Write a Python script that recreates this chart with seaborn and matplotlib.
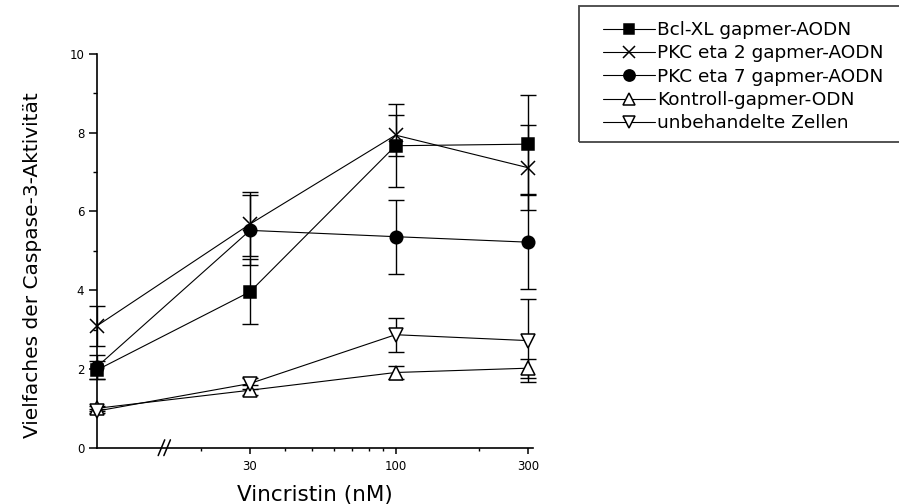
import matplotlib
matplotlib.use("Agg")
import matplotlib.pyplot as plt
import numpy as np
import pandas as pd
import seaborn as sns
from matplotlib.patches import Rectangle
from matplotlib.ticker import FixedLocator, NullFormatter, FuncFormatter

# Vincristine doses (nM); 0 = no drug, drawn at the left end of the broken axis
doses = [0, 30, 100, 300]

series_names = [
    "Bcl-XL gapmer-AODN",
    "PKC eta 2 gapmer-AODN",
    "PKC eta 7 gapmer-AODN",
    "Kontroll-gapmer-ODN",
    "unbehandelte Zellen",
]

# fold caspase-3 activity (mean) and error
bcl_mean = [1.97, 3.96, 7.67, 7.71]
bcl_err = [0.22, 0.83, 1.06, 1.26]
pkc2_mean = [3.09, 5.68, 7.94, 7.11]
pkc2_err = [0.50, 0.82, 0.52, 1.08]
pkc7_mean = [2.05, 5.52, 5.36, 5.22]
pkc7_err = [0.30, 0.89, 0.94, 1.20]
kontroll_mean = [1.00, 1.46, 1.91, 2.02]
kontroll_err = [0.06, 0.12, 0.17, 0.24]
unbeh_mean = [0.93, 1.63, 2.87, 2.72]
unbeh_err = [0.06, 0.13, 0.43, 1.06]

x_ticks = [30, 100, 300]
x_minor = [20, 40, 50, 60, 70, 80, 90, 200]
y_ticks = [0, 2, 4, 6, 8, 10]
y_minor = [1, 3, 5, 7, 9]
axis_break = 14.5

sns.set_style("ticks")
plt.rcParams["font.family"] = ["DejaVu Sans"]
for key in ("text.color", "axes.labelcolor", "xtick.color", "ytick.color",
            "axes.edgecolor"):
    plt.rcParams[key] = "black"

W, H = 899, 504
fig = plt.figure(figsize=(W / 100, H / 100), dpi=100)
ax = fig.add_axes([96.7 / W, 1 - 447.7 / H, 436.6 / W, 393.7 / H])
ax.set_xscale("log")
x_lo, x_hi = 8.44, 312.6
ax.set_xlim(x_lo, x_hi)
ax.set_ylim(0, 10)

plot_x = [x_lo if d == 0 else d for d in doses]

styles = [
    (bcl_mean, bcl_err, "s", "black", 8.5),
    (pkc2_mean, pkc2_err, "x", "black", 9.5),
    (pkc7_mean, pkc7_err, "o", "black", 9),
    (kontroll_mean, kontroll_err, "^", "white", 9.5),
    (unbeh_mean, unbeh_err, "v", "white", 9.5),
]

handles = []
for name, (mean, err, mk, face, ms) in zip(series_names, styles):
    df = pd.DataFrame({"dose": plot_x, "value": mean})
    ax.errorbar(plot_x, mean, yerr=err, fmt="none", ecolor="black",
                elinewidth=1.0, capsize=5.5, capthick=1.0, clip_on=False, zorder=2)
    sns.lineplot(data=df, x="dose", y="value", ax=ax, color="black", lw=0.8,
                 marker=mk, markersize=ms, markerfacecolor=face,
                 markeredgecolor="black", markeredgewidth=1.1,
                 label=name, clip_on=False, zorder=3, sort=False)
    handles.append(ax.lines[-1])

# axes styling
sns.despine(ax=ax)
for side in ("left", "bottom"):
    ax.spines[side].set_linewidth(1.2)
    ax.spines[side].set_color("black")

ax.xaxis.set_major_locator(FixedLocator(x_ticks))
ax.xaxis.set_major_formatter(FuncFormatter(lambda v, p: f"{v:g}"))
ax.xaxis.set_minor_locator(FixedLocator(x_minor))
ax.xaxis.set_minor_formatter(NullFormatter())
ax.yaxis.set_major_locator(FixedLocator(y_ticks))
ax.yaxis.set_minor_locator(FixedLocator(y_minor))

ax.tick_params(axis="x", which="major", direction="out", length=4, width=1.1,
               labelsize=8.5, pad=4.5, colors="black")
ax.tick_params(axis="x", which="minor", direction="out", length=2.5, width=1.0)
ax.tick_params(axis="y", which="major", direction="out", length=5.5, width=1.1,
               labelsize=8.5, pad=3.5, colors="black")
ax.tick_params(axis="y", which="minor", direction="out", length=3, width=1.0)

ax.set_xlabel("Vincristin (nM)", fontsize=15.5, labelpad=9)
ax.set_ylabel("Vielfaches der Caspase-3-Aktivität", fontsize=14.5)
ax.yaxis.set_label_coords(-0.125, 0.464)

# break marks on the dose axis
xb = ax.transAxes.inverted().transform(ax.transData.transform((axis_break, 0)))[0]
for k in (0.0, 0.013):
    ax.plot([xb - 0.009 + k, xb + 0.006 + k], [-0.02, 0.02], transform=ax.transAxes,
            color="black", lw=1.1, clip_on=False, zorder=4)

# legend entries, with a separate box drawn around them
leg = ax.legend(handles, series_names, loc="upper left",
                bbox_to_anchor=(603 / W, 1 - 21 / H), bbox_transform=fig.transFigure,
                frameon=False, fontsize=13.3, handlelength=2.8, handletextpad=0.15,
                borderpad=0, labelspacing=0.29, borderaxespad=0, markerscale=0.9)
for t in leg.get_texts():
    t.set_color("black")
fig.patches.append(Rectangle((579 / W, 1 - 142 / H), (905 - 579) / W, (142 - 6) / H,
                             transform=fig.transFigure, fill=False,
                             edgecolor="#444444", linewidth=1.3))

fig.savefig("out.png", dpi=100)
